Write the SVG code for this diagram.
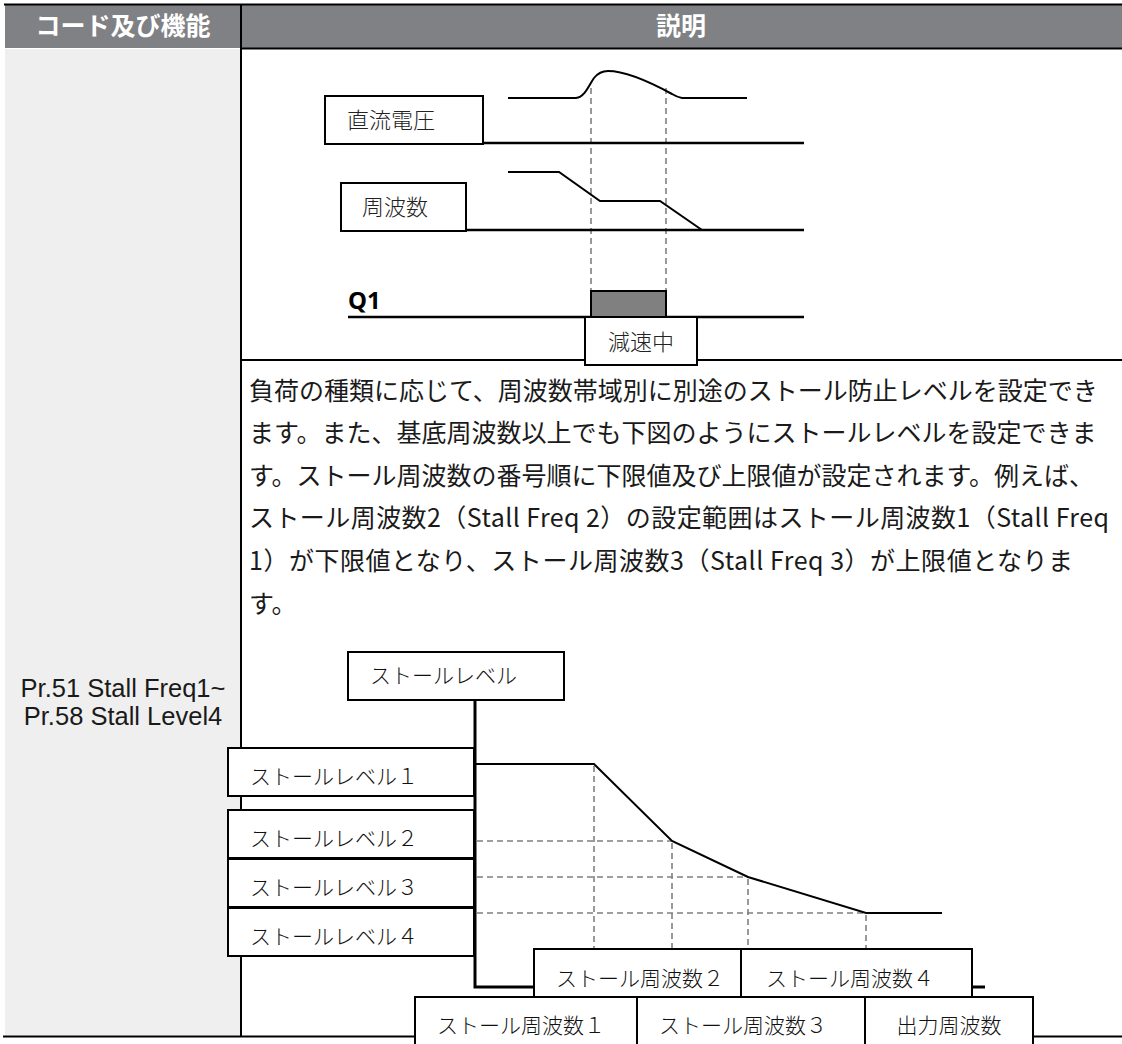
<svg xmlns="http://www.w3.org/2000/svg" width="1122" height="1044" viewBox="0 0 1122 1044">
<style>
.box{fill:#fff;stroke:#000;stroke-width:2}
.wave{fill:none;stroke:#000;stroke-width:2}
.base{fill:none;stroke:#000;stroke-width:2.5}
.axis{fill:none;stroke:#000;stroke-width:3}
.dash{fill:none;stroke:#808080;stroke-width:1.6;stroke-dasharray:6 4}
.rule{stroke:#000;stroke-width:2}
.hd{font-family:"Noto Sans CJK JP","Noto Sans",sans-serif;font-size:25px;font-weight:700;fill:#fff}
.body{font-family:"Noto Sans CJK JP","Noto Sans",sans-serif;font-size:25px;fill:#1a1a1a}
.code{font-family:"Liberation Sans",Arial,sans-serif;font-size:25.5px;fill:#1a1a1a}
.tl{font-family:"Noto Sans CJK JP",sans-serif;font-size:22px;font-weight:300;fill:#222}
.ml{font-family:"Noto Sans CJK JP",sans-serif;font-size:21px;font-weight:300;fill:#111}
.q1{font-family:"Noto Sans","Noto Sans CJK JP",sans-serif;font-size:24px;font-weight:700;fill:#000}
</style>

<g id="table">
  <rect x="5" y="5" width="1117" height="43" fill="#808184"/>
  <rect x="5" y="49" width="235" height="986" fill="#efefef"/>
  <line class="rule" x1="4" y1="4.5" x2="1122" y2="4.5" stroke-width="2.5"/>
  <line class="rule" x1="240" y1="48.5" x2="1122" y2="48.5"/>
  <line class="rule" x1="241" y1="5" x2="241" y2="1036"/>
  <line class="rule" x1="240" y1="360" x2="1122" y2="360"/>
  <line class="rule" x1="3" y1="1036.5" x2="1122" y2="1036.5" stroke-width="3"/>
  <text class="hd" x="123" y="34.5" text-anchor="middle">コード及び機能</text>
  <text class="hd" x="681" y="34.5" text-anchor="middle">説明</text>
  <text class="code" x="123" y="697" text-anchor="middle">Pr.51 Stall Freq1~</text>
  <text class="code" x="123" y="725" text-anchor="middle">Pr.58 Stall Level4</text>
</g>

<g id="description">
  <text class="body" x="249" y="399.5">負荷の種類に応じて、周波数帯域別に別途のストール防止レベルを設定でき</text>
  <text class="body" x="249" y="442">ます。また、基底周波数以上でも下図のようにストールレベルを設定できま</text>
  <text class="body" x="249" y="484.7">す。ストール周波数の番号順に下限値及び上限値が設定されます。例えば、</text>
  <text class="body" x="249" y="527.3" textLength="860" lengthAdjust="spacing">ストール周波数2（Stall Freq 2）の設定範囲はストール周波数1（Stall Freq</text>
  <text class="body" x="249" y="570" textLength="824" lengthAdjust="spacing">1）が下限値となり、ストール周波数3（Stall Freq 3）が上限値となりま</text>
  <text class="body" x="249" y="612.5">す。</text>
</g>

<g id="connectors">
  <line class="dash" x1="591" y1="88" x2="591" y2="291"/>
  <line class="dash" x1="666" y1="88" x2="666" y2="291"/>
  <path class="wave" d="M508,98 L576,98 C585,97 589,85 594,78 C598,73 602,71 608,71 C625,71 650,82 672,94 Q677,97 682,98 L747,98"/>
  <line class="base" x1="483" y1="143" x2="804" y2="143"/>
  <path class="wave" d="M508,172 L559,172 L600,201 L660,201 L702,230"/>
  <line class="base" x1="466" y1="230" x2="804" y2="230"/>
  <line class="base" x1="348" y1="317" x2="804" y2="317"/>
  <line class="dash" x1="477" y1="841" x2="672" y2="841"/>
  <line class="dash" x1="477" y1="877" x2="748" y2="877"/>
  <line class="dash" x1="477" y1="913" x2="866" y2="913"/>
  <line class="dash" x1="594" y1="766" x2="594" y2="949"/>
  <line class="dash" x1="672" y1="843" x2="672" y2="949"/>
  <line class="dash" x1="748" y1="879" x2="748" y2="949"/>
  <line class="dash" x1="866" y1="915" x2="866" y2="949"/>
  <path class="wave" d="M476,764 L594,764 L672,841 L748,877 L866,913 L942,913"/>
  <path class="axis" d="M475,700 L475,987 L985,987"/>
</g>

<g id="node-dc">
  <rect class="box" x="325" y="96" width="158" height="48"/>
  <text class="tl" x="347" y="128">直流電圧</text>
</g>
<g id="node-freq">
  <rect class="box" x="341" y="183" width="125" height="48"/>
  <text class="tl" x="362" y="215">周波数</text>
</g>
<g id="node-q1">
  <text class="q1" x="348" y="309">Q1</text>
  <rect x="591" y="291" width="75" height="26" fill="#808080" stroke="#000" stroke-width="2"/>
</g>
<g id="node-decel">
  <rect class="box" x="585" y="317" width="112" height="48"/>
  <text class="tl" x="641" y="350" text-anchor="middle">減速中</text>
</g>

<g id="node-stall-level">
  <rect class="box" x="348" y="652" width="216" height="48"/>
  <text class="ml" x="370" y="683" font-size="22">ストールレベル</text>
</g>
<g id="node-level1">
  <rect class="box" x="228" y="748" width="246" height="48"/>
  <text class="ml" x="250" y="784">ストールレベル１</text>
</g>
<g id="node-level2">
  <rect class="box" x="228" y="810" width="246" height="48"/>
  <text class="ml" x="250" y="846">ストールレベル２</text>
</g>
<g id="node-level3">
  <rect class="box" x="228" y="859" width="246" height="48"/>
  <text class="ml" x="250" y="895">ストールレベル３</text>
</g>
<g id="node-level4">
  <rect class="box" x="228" y="908" width="246" height="48"/>
  <text class="ml" x="250" y="944">ストールレベル４</text>
</g>
<g id="node-freq2">
  <rect class="box" x="534" y="949" width="207" height="48"/>
  <text class="ml" x="556" y="986">ストール周波数２</text>
</g>
<g id="node-freq4">
  <rect class="box" x="741" y="949" width="231" height="48"/>
  <text class="ml" x="766" y="986">ストール周波数４</text>
</g>
<g id="node-freq1">
  <rect class="box" x="415" y="997" width="222" height="50"/>
  <text class="ml" x="437" y="1033">ストール周波数１</text>
</g>
<g id="node-freq3">
  <rect class="box" x="637" y="997" width="228" height="50"/>
  <text class="ml" x="659" y="1033">ストール周波数３</text>
</g>
<g id="node-output">
  <rect class="box" x="865" y="997" width="168" height="50"/>
  <text class="ml" x="949" y="1033" text-anchor="middle">出力周波数</text>
</g>
</svg>
